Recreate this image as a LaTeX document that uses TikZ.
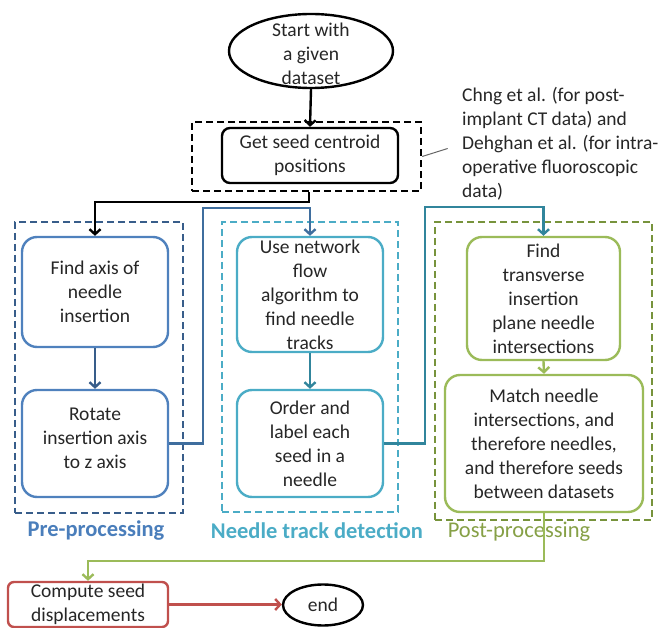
\documentclass[tikz,border=0pt]{standalone}
\usepackage{fontspec}
\setmainfont{Carlito}
\usetikzlibrary{arrows.meta,shapes.geometric,calc}
\definecolor{preDash}{HTML}{385D8A}
\definecolor{preBox}{HTML}{4F81BD}
\definecolor{preLab}{HTML}{4A7EBB}
\definecolor{linkA}{HTML}{3F6E9E}
\definecolor{ndDash}{HTML}{4BACC6}
\definecolor{ndArrow}{HTML}{31859C}
\definecolor{postDash}{HTML}{77933C}
\definecolor{postBox}{HTML}{9BBB59}
\definecolor{postLab}{HTML}{86A046}
\definecolor{redBox}{HTML}{C0504D}
\definecolor{txtc}{HTML}{262626}
\begin{document}
\begin{tikzpicture}[x=1pt,y=-1pt,
  font=\fontsize{19.5}{24}\selectfont,
  every label/.style={align=center,text=txtc,inner sep=0pt},
  procbox/.style={draw,rounded corners=15pt,line width=2.4pt,inner sep=0pt},
  grpbox/.style={draw,line width=2.4pt,dash pattern=on 7pt off 4pt,inner sep=0pt},
  arr/.style={line width=2.4pt,-{Straight Barb[length=5pt,width=11pt]}},
  grplabel/.style={font=\fontsize{22.5}{26}\selectfont,inner sep=0pt}]
\useasboundingbox (0,0) rectangle (665,628);

% start and first step
\node[draw,ellipse,line width=2.4pt,minimum width=164pt,minimum height=74pt,inner sep=0pt,
  label={[yshift=-3pt]center:Start with\\a given\\dataset}] (start) at (311,51) {};
\node[grpbox,minimum width=229pt,minimum height=69pt] (grp0) at (306.5,156.5) {};
\node[procbox,rounded corners=8pt,minimum width=176pt,minimum height=55pt,
  label={center:Get seed centroid\\positions}] (getseed) at (310,155.5) {};
\node[anchor=west,align=left,inner sep=0pt,text=txtc] (note) at (462,144)
  {Chng et al. (for post-\\implant CT data) and\\Dehghan et al. (for intra-\\operative fluoroscopic\\data)};
\draw[gray!80!black,line width=1pt,shorten >=15pt] (grp0.east) -- (note.west);

% groups
\node[grpbox,draw=preDash,minimum width=168pt,minimum height=291pt] (grpPre) at (99,367.5) {};
\node[grpbox,draw=ndDash,minimum width=176pt,minimum height=290pt] (grpNd) at (310,367) {};
\node[grpbox,draw=postDash,minimum width=217pt,minimum height=298pt] (grpPost) at (543.5,371) {};

% pre-processing
\node[procbox,draw=preBox,minimum width=146pt,minimum height=110pt,
  label={center:Find axis of\\needle\\insertion}] (findaxis) at (95,292) {};
\node[procbox,draw=preBox,minimum width=146pt,minimum height=107pt,
  label={[yshift=5pt]center:Rotate\\insertion axis\\to z axis}] (rotate) at (95,443.5) {};

% needle track detection
\node[procbox,draw=ndDash,minimum width=146pt,minimum height=115pt,
  label={center:Use network\\flow\\algorithm to\\find needle\\tracks}] (usenet) at (310,294.5) {};
\node[procbox,draw=ndDash,minimum width=146pt,minimum height=107pt,
  label={center:Order and\\label each\\seed in a\\needle}] (order) at (310,443.5) {};

% post-processing
\node[procbox,draw=postBox,minimum width=153pt,minimum height=123pt,
  label={center:Find\\transverse\\insertion\\plane needle\\intersections}] (findtr) at (543.5,298.5) {};
\node[procbox,draw=postBox,minimum width=198pt,minimum height=137pt,
  label={center:Match needle\\intersections, and\\therefore needles,\\and therefore seeds\\between datasets}] (match) at (544,443.5) {};

% group labels
\node[grplabel,text=preLab] (labPre) at (96,531) {\bfseries Pre-processing};
\node[grplabel,text=ndDash] (labNd) at (317,531) {\bfseries Needle track detection};
\node[grplabel,text=postLab] (labPost) at (519,532) {Post-processing};

% final
\node[draw=redBox,rounded corners=6pt,line width=2.4pt,minimum width=160pt,minimum height=45pt,inner sep=0pt,
  label={center:Compute seed\\displacements}] (compute) at (88,604.5) {};
\node[draw,ellipse,line width=2.4pt,minimum width=80pt,minimum height=41pt,inner sep=0pt,text=txtc] (endn) at (323,605) {end};

% bend coordinates
\coordinate (b0) at (309,202);
\coordinate (b1) at (203,208);
\coordinate (b2) at (425,207);
\coordinate (b3) at (88,561);

% connectors
\draw[arr] (start.south) -- (getseed.north);
\draw[arr] (grp0.south -| b0) |- (b0) -| (findaxis.north);
\draw[arr,draw=preDash] (findaxis.south) -- (rotate.north);
\draw[arr,draw=linkA] (rotate.east) -| (b1) -| (usenet.north);
\draw[arr,draw=ndArrow] (usenet.south) -- (order.north);
\draw[arr,draw=ndArrow] (order.east) -| (b2) -| (findtr.north);
\draw[arr,draw=postBox] (findtr.south) -- (match.north);
\draw[arr,draw=postBox] (match.south) |- (b3) -- (compute.north);
\draw[arr,draw=redBox] (compute.east) -- (compute.east -| endn.west);
\end{tikzpicture}
\end{document}
